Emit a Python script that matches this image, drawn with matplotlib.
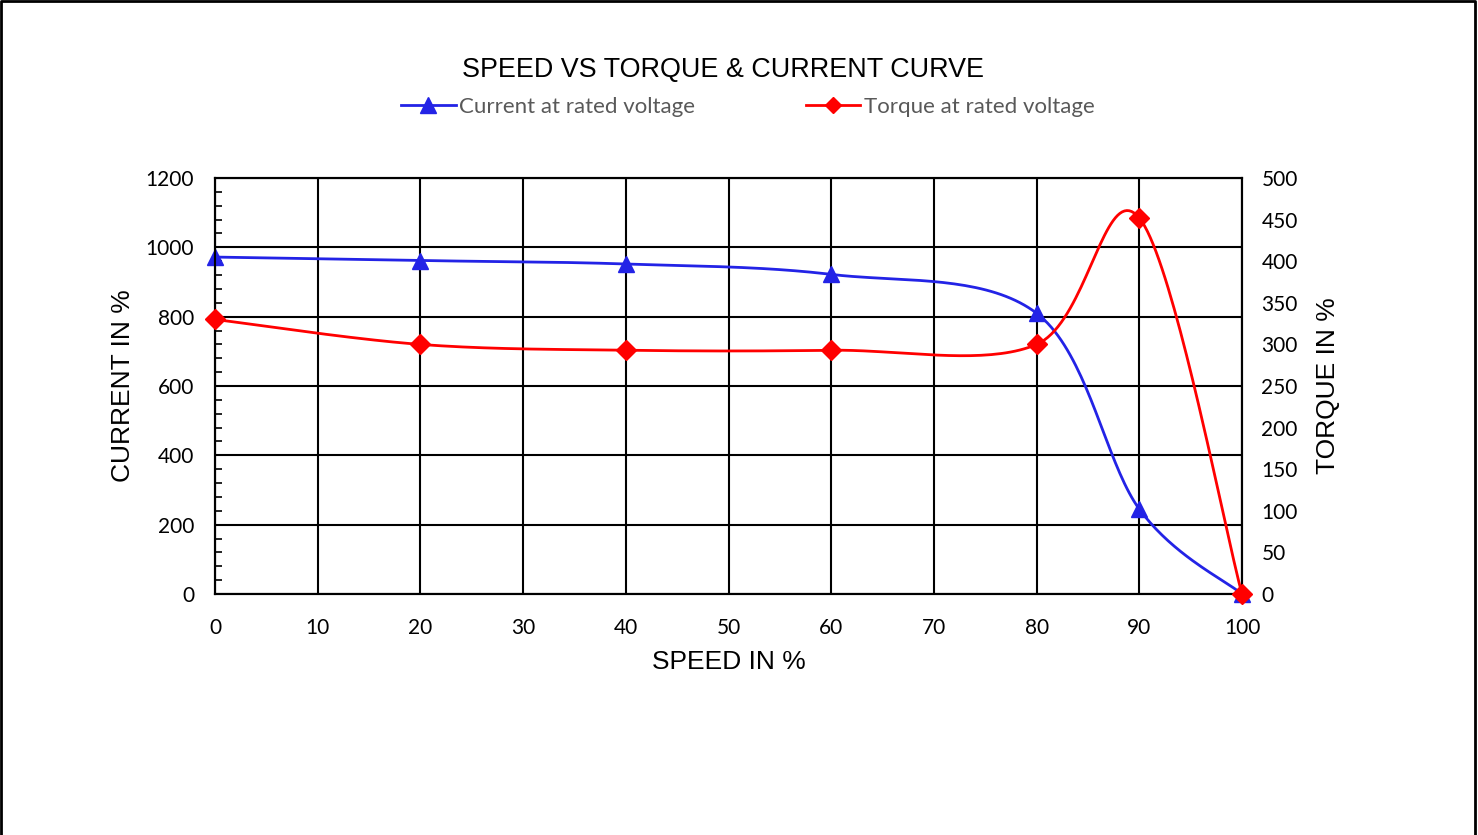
import numpy as np
import matplotlib
matplotlib.use("Agg")
import matplotlib.pyplot as plt
from matplotlib.lines import Line2D

speed = [0, 20, 40, 60, 80, 90, 100]
current = [972, 962, 952, 922, 810, 245, 0]
torque = [330, 300, 293, 293, 300, 452, 0]
x_ticks = list(range(0, 101, 10))
left_ticks = list(range(0, 1201, 200))
right_ticks = list(range(0, 501, 50))


def smooth(xs, ys, n=40):
    """Excel-like smoothed line (Catmull-Rom Bezier through the points)."""
    P = np.column_stack([xs, ys]).astype(float)
    out = []
    for i in range(len(P) - 1):
        p0 = P[i - 1] if i > 0 else P[i]
        p1 = P[i]
        p2 = P[i + 1]
        p3 = P[i + 2] if i + 2 < len(P) else P[i + 1]
        c1 = p1 + (p2 - p0) / 6.0
        c2 = p2 - (p3 - p1) / 6.0
        t = np.linspace(0, 1, n)[:, None]
        seg = ((1 - t) ** 3) * p1 + 3 * ((1 - t) ** 2) * t * c1 + 3 * (1 - t) * t ** 2 * c2 + t ** 3 * p2
        out.append(seg if i == 0 else seg[1:])
    arr = np.vstack(out)
    return arr[:, 0], arr[:, 1]


BLUE = "#2323e6"
RED = "#ff0000"
TICKFONT = "Lato"
ARIAL = "Liberation Sans"

fig = plt.figure(figsize=(14.78, 8.35), dpi=100)
ax = fig.add_axes([0.1455, 0.2886, 0.8403 - 0.1455, 0.7868 - 0.2886])
ax2 = ax.twinx()

ax.set_xlim(0, 100)
ax.set_ylim(0, 1200)
ax2.set_ylim(0, 500)

ax.set_xticks(x_ticks)
ax.set_yticks(left_ticks)
ax.set_yticks(np.arange(0, 1201, 40), minor=True)
ax2.set_yticks(right_ticks)

ax.grid(True, which="major", color="black", linewidth=1.5)
ax.set_axisbelow(True)
for sp in list(ax.spines.values()) + list(ax2.spines.values()):
    sp.set_color("black")
    sp.set_linewidth(1.5)

ax.tick_params(axis="x", length=0, pad=17, labelsize=15)
ax.tick_params(axis="y", which="major", length=0, pad=15, labelsize=15)
ax.tick_params(axis="y", which="minor", direction="in", length=5, width=1.2, color="black")
ax2.tick_params(axis="y", length=0, pad=14, labelsize=15)
for lab in ax.get_xticklabels() + ax.get_yticklabels() + ax2.get_yticklabels():
    lab.set_fontfamily(TICKFONT)

sx, sy = smooth(speed, current)
ax.plot(sx, sy, color=BLUE, lw=2, clip_on=False, zorder=3)
ax.plot(speed, current, ls="none", marker="^", ms=12, color=BLUE, clip_on=False, zorder=4)

tx, ty = smooth(speed, torque)
ax2.plot(tx, ty, color=RED, lw=2, clip_on=False, zorder=3)
ax2.plot(speed, torque, ls="none", marker="D", ms=10, color=RED, clip_on=False, zorder=4)

ax.set_xlabel("SPEED IN %", fontfamily=ARIAL, fontsize=19, labelpad=9)
ax.set_ylabel("CURRENT IN %", fontfamily=ARIAL, fontsize=19, labelpad=8)
ax2.set_ylabel("TORQUE IN %", fontfamily=ARIAL, fontsize=19, labelpad=13)

fig.text(0.489, 0.916, "SPEED VS TORQUE & CURRENT CURVE", ha="center", va="center",
         fontfamily=ARIAL, fontsize=19.4)

handles = [Line2D([], [], color=BLUE, lw=2, marker="^", ms=11),
           Line2D([], [], color=RED, lw=2, marker="D", ms=8)]
leg = fig.legend(handles, ["Current at rated voltage", "Torque at rated voltage"],
                 loc="center", bbox_to_anchor=(0.506, 0.872), ncol=2, frameon=False,
                 handlelength=2.45, columnspacing=5.0, handletextpad=0.15,
                 prop={"family": TICKFONT, "size": 16})
for t in leg.get_texts():
    t.set_color("#595959")

# figure border (left, top, right)
fig.add_artist(Line2D([0.001, 0.001, 0.998, 0.998], [0.0, 0.999, 0.999, 0.0],
                      transform=fig.transFigure, color="black", lw=2))

fig.savefig("out.png", dpi=100, facecolor="white")
